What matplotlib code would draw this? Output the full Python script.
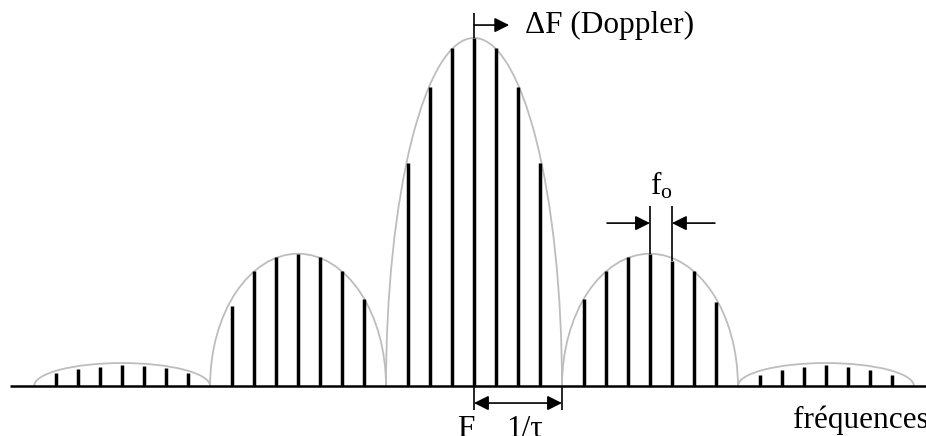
import matplotlib.pyplot as plt
from matplotlib.patches import Arc

plt.rcParams['font.family'] = ['Liberation Serif', 'DejaVu Serif']
plt.rcParams['mathtext.fontset'] = 'custom'
plt.rcParams['mathtext.rm'] = 'Liberation Serif'

# raies du spectre : ordre n (multiple de fo) et amplitude relative
ordres_ext_g = [-19, -18, -17, -16, -15, -14, -13]
ampl_ext_g = [0.037, 0.049, 0.055, 0.060, 0.057, 0.052, 0.037]
ordres_lat_g = [-11, -10, -9, -8, -7, -6, -5]
ampl_lat_g = [0.23, 0.33, 0.37, 0.38, 0.37, 0.33, 0.25]
ordres_centre = [-3, -2, -1, 0, 1, 2, 3]
ampl_centre = [0.64, 0.86, 0.97, 1.0, 0.97, 0.86, 0.64]
ordres_lat_d = [5, 6, 7, 8, 9, 10, 11]
ampl_lat_d = [0.25, 0.33, 0.37, 0.38, 0.36, 0.33, 0.24]
ordres_ext_d = [13, 14, 15, 16, 17, 18, 19]
ampl_ext_d = [0.032, 0.046, 0.055, 0.060, 0.055, 0.046, 0.032]

# enveloppe : centre des lobes, largeur (2/tau en multiples de fo) et hauteur
centres_lobes = [-16, -8, 0, 8, 16]
hauteurs_lobes = [0.066, 0.38, 1.0, 0.38, 0.066]
largeur_lobe = 8

fig = plt.figure(figsize=(9.26, 4.36), dpi=100)
ax = fig.add_axes([0, 0, 1, 1])
ax.set_xlim(-21.55, 20.55)
ax.set_ylim(-0.1437, 1.109)
ax.axis('off')

# enveloppe en arcs gris
for c, h in zip(centres_lobes, hauteurs_lobes):
    ax.add_patch(Arc((c, 0), largeur_lobe, 2 * h, theta1=0, theta2=180,
                     color='#bdbdbd', lw=1.3, zorder=1))

# raies
for n, a in [(ordres_ext_g, ampl_ext_g), (ordres_lat_g, ampl_lat_g),
             (ordres_centre, ampl_centre), (ordres_lat_d, ampl_lat_d),
             (ordres_ext_d, ampl_ext_d)]:
    ax.vlines(n, 0, a, color='black', lw=2.5, zorder=2)

# axe des fréquences
ax.hlines(0, -21.1, 20.55, color='black', lw=1.8, zorder=3)

fleche = dict(arrowstyle='-|>', color='black', lw=1.2, mutation_scale=22,
              shrinkA=0, shrinkB=0)
taille = 22.5

# décalage Doppler
ax.vlines(0, 1.0, 1.072, color='black', lw=1.2)
ax.annotate('', xy=(1.6, 1.037), xytext=(0, 1.037), arrowprops=fleche)
ax.text(2.3, 1.037, 'ΔF (Doppler)', fontsize=taille, ha='left', va='center')

# espacement fo entre deux raies
ax.vlines([8, 9], [0.38, 0.36], 0.517, color='black', lw=1.2)
ax.annotate('', xy=(8, 0.468), xytext=(6.05, 0.468), arrowprops=fleche)
ax.annotate('', xy=(9, 0.468), xytext=(10.95, 0.468), arrowprops=fleche)
ax.text(8.5, 0.575, r'$\mathregular{f_o}$', fontsize=taille, ha='center', va='center')

# largeur 1/tau du lobe central
ax.vlines([0, 4], -0.07, 0, color='black', lw=1.2)
ax.annotate('', xy=(4, -0.049), xytext=(0, -0.049),
            arrowprops=dict(arrowstyle='<|-|>', color='black', lw=1.2,
                            mutation_scale=22, shrinkA=0, shrinkB=0))
ax.text(-0.39, -0.082, 'F', fontsize=taille, ha='center', va='top')
ax.text(2.3, -0.082, '1/τ', fontsize=taille, ha='center', va='top')
ax.text(14.5, -0.0575, 'fréquences', fontsize=taille, ha='left', va='top')

fig.savefig('out.png', dpi=100)
